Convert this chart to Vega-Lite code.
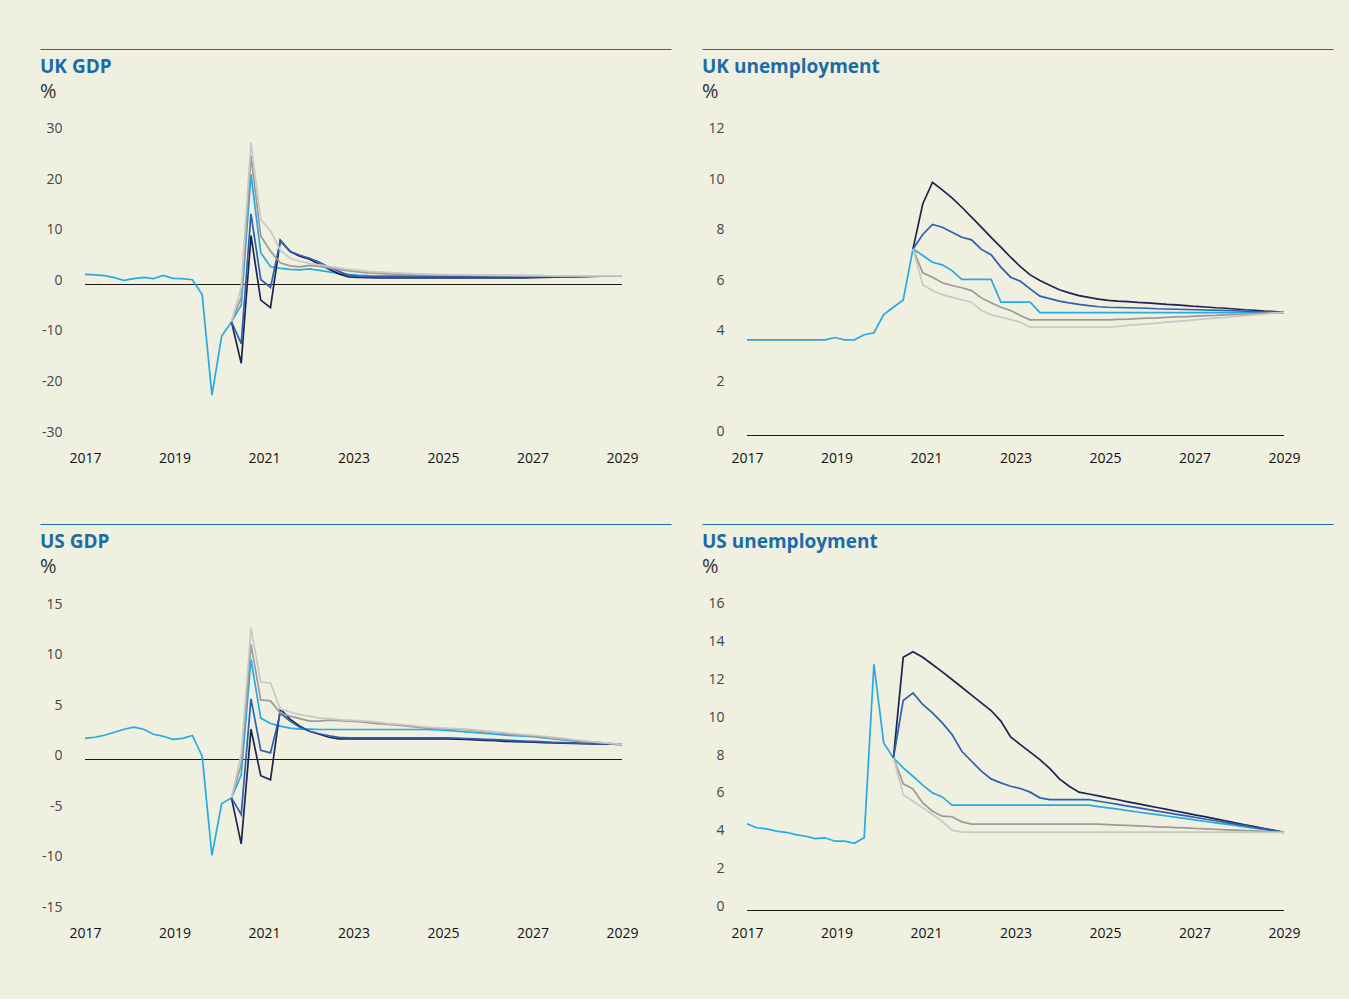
{
"$schema": "https://vega.github.io/schema/vega-lite/v6.json",
"background": "#f0f0e0",
"padding": {"left": 39, "top": 48, "right": 15, "bottom": 58},
"config": {
  "font": "Open Sans",
  "view": {"stroke": null},
  "axis": {"grid": false, "domain": false, "ticks": false, "tickSize": 0, "title": null, "labelOverlap": false, "labelFlush": false, "labelBound": false},
  "axisX": {"labelFontSize": 14, "labelColor": "#111111", "labelPadding": 15, "labelFont": "Open Sans", "labelFontWeight": 500},
  "axisY": {"labelFontSize": 14, "labelColor": "#444444", "labelAlign": "right", "labelBaseline": "alphabetic", "labelPadding": -22, "labelFont": "Open Sans"},
  "title": {"anchor": "start", "frame": "group", "font": "Open Sans", "fontSize": 19, "fontWeight": "bold", "color": "#1a6ca8", "subtitleFont": "Open Sans", "subtitleFontSize": 20, "subtitleColor": "#333333", "subtitleFontWeight": "normal", "subtitlePadding": 5, "offset": -53}
},
"datasets": {
"ukgdp": [{"q":0,"C":2.0},{"q":1,"C":1.9},{"q":2,"C":1.75},{"q":3,"C":1.35},{"q":4,"C":0.8},{"q":5,"C":1.15},{"q":6,"C":1.4},{"q":7,"C":1.15},{"q":8,"C":1.8},{"q":9,"C":1.2},{"q":10,"C":1.15},{"q":11,"C":0.95},{"q":12,"C":-2.0},{"q":13,"C":-21.9},{"q":14,"C":-10.2},
{"q":15,"A":-7.4,"B":-7.4,"C":-7.4,"D":-7.4,"E":-7.4},
{"q":16,"A":-15.6,"B":-11.7,"C":-4.1,"D":-2.6,"E":-0.6},
{"q":17,"A":9.7,"B":14.0,"C":21.8,"D":25.4,"E":28.1},
{"q":18,"A":-3.1,"B":1.0,"C":6.3,"D":9.6,"E":12.9},
{"q":19,"A":-4.6,"B":-0.6,"C":3.5,"D":6.6,"E":10.6},
{"q":20,"A":8.75,"B":8.6,"C":3.2,"D":4.3,"E":6.8},
{"q":21,"A":6.5,"B":6.6,"C":3.0,"D":3.7,"E":5.2},
{"q":22,"A":5.6,"B":5.8,"C":2.9,"D":3.5,"E":4.6},
{"q":23,"A":5.0,"B":5.2,"C":3.1,"D":3.8,"E":4.2},
{"q":24,"A":4.0,"B":4.4,"C":2.8,"D":3.6,"E":3.9},
{"q":25,"A":3.0,"B":3.4,"C":2.5,"D":3.3,"E":3.6},
{"q":26,"A":2.1,"B":2.6,"C":2.2,"D":3.0,"E":3.3},
{"q":27,"A":1.5,"B":1.8,"C":2.0,"D":2.7,"E":3.0},
{"q":28,"A":1.4,"B":1.6,"C":1.85,"D":2.5,"E":2.8},
{"q":29,"A":1.35,"B":1.55,"C":1.75,"D":2.3,"E":2.6},
{"q":30,"A":1.3,"B":1.5,"C":1.7,"D":2.2,"E":2.5},
{"q":31,"A":1.3,"B":1.5,"C":1.7,"D":2.1,"E":2.4},
{"q":32,"A":1.3,"B":1.5,"C":1.7,"D":2.05,"E":2.3},
{"q":33,"A":1.3,"B":1.5,"C":1.7,"D":2.0,"E":2.2},
{"q":34,"A":1.3,"B":1.5,"C":1.7,"D":2.0,"E":2.1},
{"q":35,"A":1.3,"B":1.5,"C":1.7,"D":1.95,"E":2.05},
{"q":36,"A":1.3,"B":1.5,"C":1.7,"D":1.9,"E":2.0},
{"q":37,"A":1.3,"B":1.5,"C":1.7,"D":1.9,"E":1.95},
{"q":38,"A":1.3,"B":1.5,"C":1.7,"D":1.85,"E":1.9},
{"q":39,"A":1.3,"B":1.5,"C":1.7,"D":1.85,"E":1.9},
{"q":40,"A":1.3,"B":1.5,"C":1.7,"D":1.8,"E":1.85},
{"q":41,"A":1.3,"B":1.5,"C":1.7,"D":1.8,"E":1.85},
{"q":42,"A":1.3,"B":1.5,"C":1.7,"D":1.8,"E":1.8},
{"q":43,"A":1.3,"B":1.5,"C":1.7,"D":1.75,"E":1.8},
{"q":44,"A":1.3,"B":1.5,"C":1.7,"D":1.75,"E":1.8},
{"q":45,"A":1.3,"B":1.5,"C":1.7,"D":1.75,"E":1.75},
{"q":46,"A":1.35,"B":1.52,"C":1.7,"D":1.75,"E":1.75},
{"q":47,"A":1.4,"B":1.54,"C":1.7,"D":1.72,"E":1.75},
{"q":48,"A":1.45,"B":1.56,"C":1.7,"D":1.72,"E":1.72},
{"q":49,"A":1.5,"B":1.58,"C":1.7,"D":1.72,"E":1.72},
{"q":50,"A":1.5,"B":1.6,"C":1.7,"D":1.7,"E":1.72},
{"q":51,"A":1.55,"B":1.62,"C":1.7,"D":1.7,"E":1.7},
{"q":52,"A":1.6,"B":1.64,"C":1.7,"D":1.7,"E":1.7},
{"q":53,"A":1.65,"B":1.66,"C":1.7,"D":1.7,"E":1.7},
{"q":54,"A":1.7,"B":1.68,"C":1.7,"D":1.7,"E":1.7},
{"q":55,"A":1.7,"B":1.7,"C":1.7,"D":1.7,"E":1.7}],
"ukun": [{"q":0,"C":3.79},{"q":1,"C":3.79},{"q":2,"C":3.79},{"q":3,"C":3.79},{"q":4,"C":3.79},{"q":5,"C":3.79},{"q":6,"C":3.79},{"q":7,"C":3.79},{"q":8,"C":3.79},{"q":9,"C":3.88},{"q":10,"C":3.79},{"q":11,"C":3.79},{"q":12,"C":3.99},{"q":13,"C":4.07},{"q":14,"C":4.79},{"q":15,"C":5.08},{"q":16,"C":5.37},
{"q":17,"A":7.39,"B":7.39,"C":7.39,"D":7.39,"E":7.39},
{"q":18,"A":9.17,"B":7.96,"C":7.13,"D":6.44,"E":5.97},
{"q":19,"A":10.03,"B":8.36,"C":6.86,"D":6.27,"E":5.74},
{"q":20,"A":9.73,"B":8.25,"C":6.76,"D":6.05,"E":5.57},
{"q":21,"A":9.41,"B":8.05,"C":6.53,"D":5.94,"E":5.48},
{"q":22,"A":9.04,"B":7.85,"C":6.18,"D":5.85,"E":5.37},
{"q":23,"A":8.65,"B":7.75,"C":6.18,"D":5.74,"E":5.28},
{"q":24,"A":8.25,"B":7.37,"C":6.18,"D":5.45,"E":4.95},
{"q":25,"A":7.85,"B":7.16,"C":6.18,"D":5.26,"E":4.78},
{"q":26,"A":7.46,"B":6.67,"C":5.28,"D":5.08,"E":4.69},
{"q":27,"A":7.06,"B":6.27,"C":5.28,"D":4.95,"E":4.59},
{"q":28,"A":6.69,"B":6.11,"C":5.28,"D":4.75,"E":4.49},
{"q":29,"A":6.36,"B":5.81,"C":5.28,"D":4.58,"E":4.29},
{"q":30,"A":6.14,"B":5.52,"C":4.87,"D":4.58,"E":4.29},
{"q":31,"A":5.95,"B":5.42,"C":4.87,"D":4.58,"E":4.29},
{"q":32,"A":5.77,"B":5.32,"C":4.87,"D":4.58,"E":4.29},
{"q":33,"A":5.65,"B":5.25,"C":4.87,"D":4.58,"E":4.29},
{"q":34,"A":5.54,"B":5.19,"C":4.87,"D":4.58,"E":4.29},
{"q":35,"A":5.47,"B":5.14,"C":4.87,"D":4.58,"E":4.29},
{"q":36,"A":5.40,"B":5.10,"C":4.87,"D":4.58,"E":4.29},
{"q":37,"A":5.35,"B":5.08,"C":4.87,"D":4.58,"E":4.29},
{"q":38,"A":5.32,"B":5.07,"C":4.87,"D":4.60,"E":4.32},
{"q":39,"A":5.30,"B":5.06,"C":4.87,"D":4.61,"E":4.36},
{"q":40,"A":5.27,"B":5.05,"C":4.87,"D":4.63,"E":4.39},
{"q":41,"A":5.25,"B":5.04,"C":4.87,"D":4.65,"E":4.42},
{"q":42,"A":5.22,"B":5.02,"C":4.87,"D":4.66,"E":4.45},
{"q":43,"A":5.19,"B":5.01,"C":4.87,"D":4.68,"E":4.49},
{"q":44,"A":5.17,"B":5.00,"C":4.87,"D":4.70,"E":4.52},
{"q":45,"A":5.14,"B":4.99,"C":4.87,"D":4.71,"E":4.55},
{"q":46,"A":5.11,"B":4.98,"C":4.87,"D":4.73,"E":4.59},
{"q":47,"A":5.09,"B":4.97,"C":4.87,"D":4.75,"E":4.62},
{"q":48,"A":5.06,"B":4.96,"C":4.87,"D":4.76,"E":4.65},
{"q":49,"A":5.04,"B":4.95,"C":4.87,"D":4.78,"E":4.68},
{"q":50,"A":5.01,"B":4.94,"C":4.87,"D":4.80,"E":4.72},
{"q":51,"A":4.98,"B":4.92,"C":4.87,"D":4.81,"E":4.75},
{"q":52,"A":4.96,"B":4.91,"C":4.87,"D":4.83,"E":4.78},
{"q":53,"A":4.93,"B":4.90,"C":4.87,"D":4.85,"E":4.81},
{"q":54,"A":4.91,"B":4.89,"C":4.87,"D":4.86,"E":4.85},
{"q":55,"A":4.88,"B":4.88,"C":4.87,"D":4.88,"E":4.88}],
"usgdp": [{"q":0,"C":2.1},{"q":1,"C":2.2},{"q":2,"C":2.4},{"q":3,"C":2.7},{"q":4,"C":3.0},{"q":5,"C":3.2},{"q":6,"C":3.0},{"q":7,"C":2.5},{"q":8,"C":2.3},{"q":9,"C":2.0},{"q":10,"C":2.1},{"q":11,"C":2.38},{"q":12,"C":0.33},{"q":13,"C":-9.5},{"q":14,"C":-4.36},
{"q":15,"A":-3.8,"B":-3.8,"C":-3.8,"D":-3.8,"E":-3.8},
{"q":16,"A":-8.35,"B":-5.45,"C":-1.55,"D":-0.5,"E":0.5},
{"q":17,"A":3.0,"B":6.0,"C":9.9,"D":11.4,"E":13.0},
{"q":18,"A":-1.6,"B":0.92,"C":4.1,"D":5.9,"E":7.65},
{"q":19,"A":-2.0,"B":0.66,"C":3.56,"D":5.8,"E":7.6},
{"q":20,"A":5.0,"B":4.6,"C":3.3,"D":4.6,"E":5.0},
{"q":21,"A":4.0,"B":3.8,"C":3.1,"D":4.3,"E":4.7},
{"q":22,"A":3.3,"B":3.2,"C":3.0,"D":4.05,"E":4.45},
{"q":23,"A":2.8,"B":2.8,"C":3.0,"D":3.8,"E":4.3},
{"q":24,"A":2.5,"B":2.55,"C":2.97,"D":3.8,"E":4.1},
{"q":25,"A":2.2,"B":2.35,"C":2.97,"D":3.9,"E":4.05},
{"q":26,"A":2.05,"B":2.2,"C":2.97,"D":3.85,"E":3.95},
{"q":27,"A":2.05,"B":2.15,"C":2.97,"D":3.8,"E":3.9},
{"q":28,"A":2.05,"B":2.15,"C":2.97,"D":3.75,"E":3.85},
{"q":29,"A":2.05,"B":2.15,"C":2.97,"D":3.65,"E":3.78},
{"q":30,"A":2.05,"B":2.15,"C":2.97,"D":3.55,"E":3.7},
{"q":31,"A":2.05,"B":2.15,"C":2.97,"D":3.47,"E":3.56},
{"q":32,"A":2.05,"B":2.15,"C":2.97,"D":3.4,"E":3.5},
{"q":33,"A":2.05,"B":2.15,"C":2.97,"D":3.3,"E":3.4},
{"q":34,"A":2.05,"B":2.15,"C":2.97,"D":3.2,"E":3.3},
{"q":35,"A":2.05,"B":2.15,"C":2.97,"D":3.1,"E":3.2},
{"q":36,"A":2.05,"B":2.15,"C":2.92,"D":3.05,"E":3.15},
{"q":37,"A":2.05,"B":2.15,"C":2.87,"D":3.0,"E":3.1},
{"q":38,"A":2.02,"B":2.12,"C":2.8,"D":3.0,"E":3.05},
{"q":39,"A":1.98,"B":2.08,"C":2.74,"D":2.95,"E":3.0},
{"q":40,"A":1.94,"B":2.04,"C":2.66,"D":2.85,"E":2.92},
{"q":41,"A":1.9,"B":2.0,"C":2.58,"D":2.75,"E":2.83},
{"q":42,"A":1.86,"B":1.96,"C":2.5,"D":2.65,"E":2.74},
{"q":43,"A":1.8,"B":1.91,"C":2.42,"D":2.55,"E":2.65},
{"q":44,"A":1.77,"B":1.87,"C":2.35,"D":2.45,"E":2.55},
{"q":45,"A":1.74,"B":1.83,"C":2.3,"D":2.38,"E":2.47},
{"q":46,"A":1.71,"B":1.79,"C":2.25,"D":2.3,"E":2.4},
{"q":47,"A":1.68,"B":1.75,"C":2.15,"D":2.2,"E":2.3},
{"q":48,"A":1.65,"B":1.71,"C":2.05,"D":2.1,"E":2.2},
{"q":49,"A":1.62,"B":1.67,"C":1.95,"D":2.0,"E":2.1},
{"q":50,"A":1.6,"B":1.64,"C":1.85,"D":1.9,"E":1.98},
{"q":51,"A":1.57,"B":1.6,"C":1.78,"D":1.8,"E":1.86},
{"q":52,"A":1.55,"B":1.57,"C":1.7,"D":1.72,"E":1.76},
{"q":53,"A":1.53,"B":1.54,"C":1.62,"D":1.65,"E":1.67},
{"q":54,"A":1.51,"B":1.52,"C":1.56,"D":1.57,"E":1.58},
{"q":55,"A":1.5,"B":1.5,"C":1.5,"D":1.5,"E":1.5}],
"usun": [{"q":0,"C":4.58},{"q":1,"C":4.37},{"q":2,"C":4.31},{"q":3,"C":4.19},{"q":4,"C":4.13},{"q":5,"C":4.01},{"q":6,"C":3.92},{"q":7,"C":3.80},{"q":8,"C":3.84},{"q":9,"C":3.66},{"q":10,"C":3.66},{"q":11,"C":3.55},{"q":12,"C":3.84},{"q":13,"C":13.0},{"q":14,"C":8.85},
{"q":15,"A":8.06,"B":8.06,"C":8.06,"D":8.06,"E":8.06},
{"q":16,"A":13.37,"B":11.09,"C":7.53,"D":6.69,"E":6.12},
{"q":17,"A":13.66,"B":11.49,"C":7.09,"D":6.42,"E":5.77},
{"q":18,"A":13.37,"B":10.88,"C":6.62,"D":5.68,"E":5.42},
{"q":19,"A":12.99,"B":10.44,"C":6.21,"D":5.24,"E":5.07},
{"q":20,"A":12.6,"B":9.91,"C":6.0,"D":4.98,"E":4.71},
{"q":21,"A":12.2,"B":9.29,"C":5.56,"D":4.95,"E":4.24},
{"q":22,"A":11.79,"B":8.41,"C":5.56,"D":4.68,"E":4.14},
{"q":23,"A":11.37,"B":7.88,"C":5.56,"D":4.56,"E":4.14},
{"q":24,"A":10.96,"B":7.36,"C":5.56,"D":4.56,"E":4.14},
{"q":25,"A":10.56,"B":6.95,"C":5.56,"D":4.56,"E":4.14},
{"q":26,"A":10.0,"B":6.74,"C":5.56,"D":4.56,"E":4.14},
{"q":27,"A":9.17,"B":6.56,"C":5.56,"D":4.56,"E":4.14},
{"q":28,"A":8.76,"B":6.44,"C":5.56,"D":4.56,"E":4.14},
{"q":29,"A":8.36,"B":6.25,"C":5.56,"D":4.56,"E":4.14},
{"q":30,"A":7.97,"B":5.95,"C":5.56,"D":4.56,"E":4.14},
{"q":31,"A":7.5,"B":5.86,"C":5.56,"D":4.56,"E":4.14},
{"q":32,"A":6.95,"B":5.86,"C":5.56,"D":4.56,"E":4.14},
{"q":33,"A":6.56,"B":5.86,"C":5.56,"D":4.56,"E":4.14},
{"q":34,"A":6.25,"B":5.86,"C":5.56,"D":4.56,"E":4.14},
{"q":35,"A":6.15,"B":5.86,"C":5.56,"D":4.56,"E":4.14},
{"q":36,"A":6.05,"B":5.77,"C":5.49,"D":4.56,"E":4.14},
{"q":37,"A":5.95,"B":5.69,"C":5.42,"D":4.54,"E":4.14},
{"q":38,"A":5.85,"B":5.60,"C":5.35,"D":4.51,"E":4.14},
{"q":39,"A":5.74,"B":5.51,"C":5.27,"D":4.49,"E":4.14},
{"q":40,"A":5.64,"B":5.43,"C":5.20,"D":4.47,"E":4.14},
{"q":41,"A":5.54,"B":5.34,"C":5.13,"D":4.45,"E":4.14},
{"q":42,"A":5.44,"B":5.25,"C":5.06,"D":4.42,"E":4.14},
{"q":43,"A":5.34,"B":5.17,"C":4.99,"D":4.40,"E":4.14},
{"q":44,"A":5.24,"B":5.08,"C":4.92,"D":4.38,"E":4.14},
{"q":45,"A":5.14,"B":5.00,"C":4.85,"D":4.36,"E":4.14},
{"q":46,"A":5.04,"B":4.91,"C":4.77,"D":4.33,"E":4.14},
{"q":47,"A":4.94,"B":4.82,"C":4.70,"D":4.31,"E":4.14},
{"q":48,"A":4.84,"B":4.74,"C":4.63,"D":4.29,"E":4.14},
{"q":49,"A":4.74,"B":4.65,"C":4.56,"D":4.26,"E":4.14},
{"q":50,"A":4.63,"B":4.56,"C":4.49,"D":4.24,"E":4.14},
{"q":51,"A":4.53,"B":4.48,"C":4.42,"D":4.22,"E":4.13},
{"q":52,"A":4.43,"B":4.39,"C":4.35,"D":4.20,"E":4.13},
{"q":53,"A":4.33,"B":4.30,"C":4.27,"D":4.17,"E":4.13},
{"q":54,"A":4.23,"B":4.22,"C":4.20,"D":4.15,"E":4.13},
{"q":55,"A":4.13,"B":4.13,"C":4.13,"D":4.13,"E":4.13}]
},
"columns": 2,
"spacing": {"row": 88, "column": 31},
"bounds": "flush",
"concat": [
{
 "width": 631, "height": 387,
 "view": {"stroke": "#1a6ca8", "strokeWidth": 1, "strokeDash": [631, 3000]},
 "title": {"text": "UK GDP", "subtitle": "%"},
 "layer": [
  {"data": {"values": [{"q": 0, "q2": 55, "v": 0}]},
   "mark": {"type": "rule", "color": "#1a1a1a", "strokeWidth": 1.1},
   "encoding": {
    "x": {"field": "q", "type": "quantitative", "scale": {"domain": [-4.609, 60.019], "nice": false, "zero": false}, "axis": {"values": [0, 9.1667, 18.3333, 27.5, 36.6667, 45.8333, 55], "labelExpr": "'' + (2017 + 2 * round(datum.value * 6 / 55))"}},
    "x2": {"field": "q2"},
    "y": {"field": "v", "type": "quantitative", "scale": {"domain": [-30, 46.63], "nice": false, "zero": false}, "axis": {"values": [-30,-20,-10,0,10,20,30], "labelExpr": "'' + datum.value"}}}},
  {"data": {"name": "ukgdp"},
   "transform": [{"fold": ["A","B","C","D","E"], "as": ["s","v"]}, {"filter": "datum.v != null"}],
   "mark": {"type": "line", "strokeWidth": 1.7},
   "encoding": {
    "x": {"field": "q", "type": "quantitative", "scale": {"domain": [-4.609, 60.019], "nice": false, "zero": false}, "axis": {"values": [0, 9.1667, 18.3333, 27.5, 36.6667, 45.8333, 55], "labelExpr": "'' + (2017 + 2 * round(datum.value * 6 / 55))"}},
    "y": {"field": "v", "type": "quantitative", "scale": {"domain": [-30, 46.63], "nice": false, "zero": false}, "axis": {"values": [-30,-20,-10,0,10,20,30], "labelExpr": "'' + datum.value"}},
    "color": {"field": "s", "type": "nominal", "scale": {"domain": ["A","B","C","D","E"], "range": ["#1b2452","#2f5fae","#29a9e1","#9a9a9a","#c8c8c8"]}, "legend": null}}}
 ]
},
{
 "width": 631, "height": 387,
 "view": {"stroke": "#1a6ca8", "strokeWidth": 1, "strokeDash": [631, 3000]},
 "title": {"text": "UK unemployment", "subtitle": "%"},
 "layer": [
  {"data": {"values": [{"q": 0, "q2": 55, "v": 0}]},
   "mark": {"type": "rule", "color": "#1a1a1a", "strokeWidth": 1.1},
   "encoding": {
    "x": {"field": "q", "type": "quantitative", "scale": {"domain": [-4.609, 60.019], "nice": false, "zero": false}, "axis": {"values": [0, 9.1667, 18.3333, 27.5, 36.6667, 45.8333, 55], "labelExpr": "'' + (2017 + 2 * round(datum.value * 6 / 55))"}},
    "x2": {"field": "q2"},
    "y": {"field": "v", "type": "quantitative", "scale": {"domain": [-0.0198, 15.307], "nice": false, "zero": false}, "axis": {"values": [0,2,4,6,8,10,12], "labelExpr": "'' + datum.value"}}}},
  {"data": {"name": "ukun"},
   "transform": [{"fold": ["A","B","C","D","E"], "as": ["s","v"]}, {"filter": "datum.v != null"}],
   "mark": {"type": "line", "strokeWidth": 1.7},
   "encoding": {
    "x": {"field": "q", "type": "quantitative", "scale": {"domain": [-4.609, 60.019], "nice": false, "zero": false}, "axis": {"values": [0, 9.1667, 18.3333, 27.5, 36.6667, 45.8333, 55], "labelExpr": "'' + (2017 + 2 * round(datum.value * 6 / 55))"}},
    "y": {"field": "v", "type": "quantitative", "scale": {"domain": [-0.0198, 15.307], "nice": false, "zero": false}, "axis": {"values": [0,2,4,6,8,10,12], "labelExpr": "'' + datum.value"}},
    "color": {"field": "s", "type": "nominal", "scale": {"domain": ["A","B","C","D","E"], "range": ["#1b2452","#2f5fae","#29a9e1","#9a9a9a","#c8c8c8"]}, "legend": null}}}
 ]
},
{
 "width": 631, "height": 387,
 "view": {"stroke": "#1a6ca8", "strokeWidth": 1, "strokeDash": [631, 3000]},
 "title": {"text": "US GDP", "subtitle": "%"},
 "layer": [
  {"data": {"values": [{"q": 0, "q2": 55, "v": 0}]},
   "mark": {"type": "rule", "color": "#1a1a1a", "strokeWidth": 1.1},
   "encoding": {
    "x": {"field": "q", "type": "quantitative", "scale": {"domain": [-4.609, 60.019], "nice": false, "zero": false}, "axis": {"values": [0, 9.1667, 18.3333, 27.5, 36.6667, 45.8333, 55], "labelExpr": "'' + (2017 + 2 * round(datum.value * 6 / 55))"}},
    "x2": {"field": "q2"},
    "y": {"field": "v", "type": "quantitative", "scale": {"domain": [-15, 23.317], "nice": false, "zero": false}, "axis": {"values": [-15,-10,-5,0,5,10,15], "labelExpr": "'' + datum.value"}}}},
  {"data": {"name": "usgdp"},
   "transform": [{"fold": ["A","B","C","D","E"], "as": ["s","v"]}, {"filter": "datum.v != null"}],
   "mark": {"type": "line", "strokeWidth": 1.7},
   "encoding": {
    "x": {"field": "q", "type": "quantitative", "scale": {"domain": [-4.609, 60.019], "nice": false, "zero": false}, "axis": {"values": [0, 9.1667, 18.3333, 27.5, 36.6667, 45.8333, 55], "labelExpr": "'' + (2017 + 2 * round(datum.value * 6 / 55))"}},
    "y": {"field": "v", "type": "quantitative", "scale": {"domain": [-15, 23.317], "nice": false, "zero": false}, "axis": {"values": [-15,-10,-5,0,5,10,15], "labelExpr": "'' + datum.value"}},
    "color": {"field": "s", "type": "nominal", "scale": {"domain": ["A","B","C","D","E"], "range": ["#1b2452","#2f5fae","#29a9e1","#9a9a9a","#c8c8c8"]}, "legend": null}}}
 ]
},
{
 "width": 631, "height": 387,
 "view": {"stroke": "#1a6ca8", "strokeWidth": 1, "strokeDash": [631, 3000]},
 "title": {"text": "US unemployment", "subtitle": "%"},
 "layer": [
  {"data": {"values": [{"q": 0, "q2": 55, "v": 0}]},
   "mark": {"type": "rule", "color": "#1a1a1a", "strokeWidth": 1.1},
   "encoding": {
    "x": {"field": "q", "type": "quantitative", "scale": {"domain": [-4.609, 60.019], "nice": false, "zero": false}, "axis": {"values": [0, 9.1667, 18.3333, 27.5, 36.6667, 45.8333, 55], "labelExpr": "'' + (2017 + 2 * round(datum.value * 6 / 55))"}},
    "x2": {"field": "q2"},
    "y": {"field": "v", "type": "quantitative", "scale": {"domain": [-0.0264, 20.41], "nice": false, "zero": false}, "axis": {"values": [0,2,4,6,8,10,12,14,16], "labelExpr": "'' + datum.value"}}}},
  {"data": {"name": "usun"},
   "transform": [{"fold": ["A","B","C","D","E"], "as": ["s","v"]}, {"filter": "datum.v != null"}],
   "mark": {"type": "line", "strokeWidth": 1.7},
   "encoding": {
    "x": {"field": "q", "type": "quantitative", "scale": {"domain": [-4.609, 60.019], "nice": false, "zero": false}, "axis": {"values": [0, 9.1667, 18.3333, 27.5, 36.6667, 45.8333, 55], "labelExpr": "'' + (2017 + 2 * round(datum.value * 6 / 55))"}},
    "y": {"field": "v", "type": "quantitative", "scale": {"domain": [-0.0264, 20.41], "nice": false, "zero": false}, "axis": {"values": [0,2,4,6,8,10,12,14,16], "labelExpr": "'' + datum.value"}},
    "color": {"field": "s", "type": "nominal", "scale": {"domain": ["A","B","C","D","E"], "range": ["#1b2452","#2f5fae","#29a9e1","#9a9a9a","#c8c8c8"]}, "legend": null}}}
 ]
}
]
}
